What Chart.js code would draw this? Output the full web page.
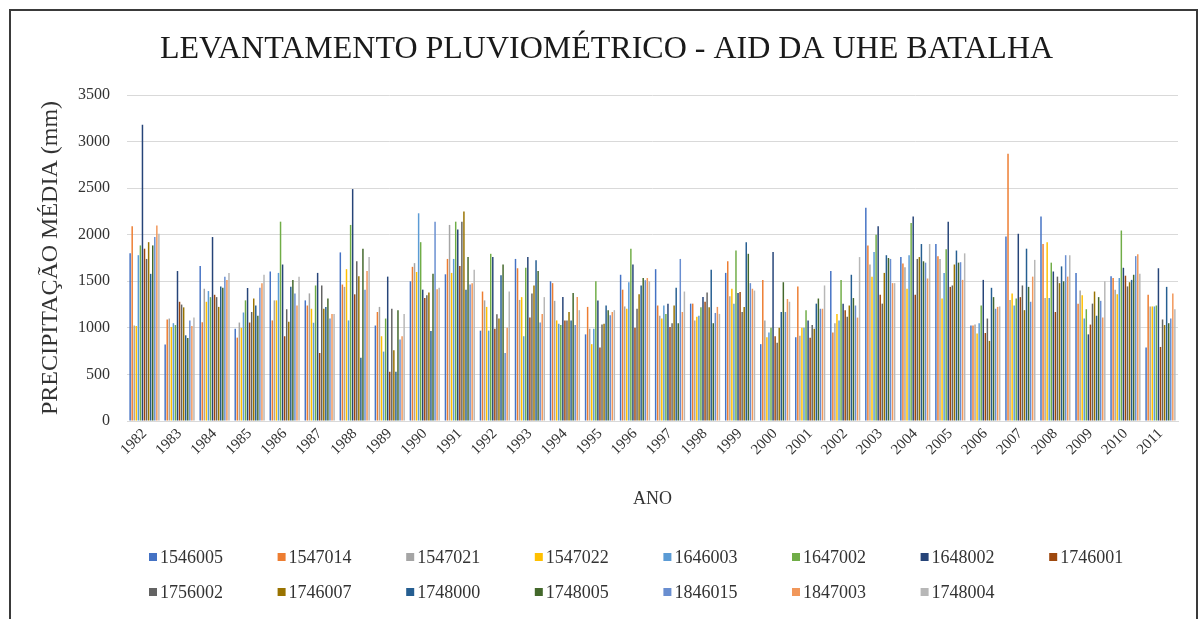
<!DOCTYPE html>
<html>
<head>
<meta charset="utf-8">
<script src="https://cdn.jsdelivr.net/npm/chart.js@4/dist/chart.umd.min.js"></script>
<style>
  html, body { margin: 0; padding: 0; background: #ffffff; }
  #wrap { width: 1203px; height: 619px; }
</style>
</head>
<body>
<div id="wrap"><canvas id="chart" width="1203" height="619"></canvas></div>
<script>
// Years on the category axis
const years = ['1982','1983','1984','1985','1986','1987','1988','1989','1990','1991',
  '1992','1993','1994','1995','1996','1997','1998','1999','2000','2001',
  '2002','2003','2004','2005','2006','2007','2008','2009','2010','2011'];

// Mean annual precipitation (mm) per rain gauge station
const s1546005 = [1800,820,1665,990,1605,1295,1810,1025,1500,1575,970,1740,1500,930,1570,1630,1260,1590,825,900,1610,2290,1760,1900,1025,1980,2195,1590,1555,790];
const s1547014 = [2090,1090,1060,895,1080,1240,1465,1170,1655,1740,1390,1640,1480,1225,1410,1240,1260,1715,1515,1445,950,1885,1690,1770,1025,2870,1900,1260,1535,1355];
const s1547021 = [1025,1100,1420,1057,1295,1370,1440,1225,1695,2105,1295,1300,1290,990,1230,1130,1080,1340,1080,915,1050,1680,1650,1740,1035,1300,1320,1400,1410,1230];
const s1547022 = [1020,1010,1280,1000,1295,1205,1630,910,1600,1590,1225,1330,1080,825,1205,1100,1120,1420,900,1000,1150,1550,1420,1315,940,1370,1920,1350,1360,1230];
const s1646003 = [1780,1050,1395,1165,1590,1055,1080,745,2230,1740,970,910,1045,990,1490,1240,1130,1260,950,1000,1080,1815,1780,1590,1050,1240,1320,1100,1535,1230];
const s1647002 = [1885,1030,1330,1295,2140,1455,2105,1100,1920,2140,1795,1645,1030,1500,1850,1150,1220,1830,1000,1190,1515,2000,2125,1845,1240,1315,1700,1200,2045,1240];
const s1648002 = [3180,1610,1975,1428,1680,1590,2490,1550,1410,2055,1760,1760,1330,1295,1680,1260,1330,1375,1815,1080,1260,2090,2195,2140,1515,2010,1605,930,1645,1640];
const s1746001 = [1850,1280,1355,1057,910,730,1360,530,1320,1665,990,1110,1080,790,1000,1010,1280,1385,910,895,1190,1355,1355,1440,945,1330,1170,1035,1560,795];
const s1756002 = [1740,1250,1330,1170,1200,1455,1715,1205,1350,2140,1145,1370,1080,1035,1205,1050,1380,1170,840,1030,1120,1260,1740,1455,1100,1455,1550,1260,1445,1090];
const s1746007 = [1920,1220,1225,1315,1065,1205,1555,760,1380,2250,1100,1455,1170,1045,1360,1240,1220,1225,1000,990,1240,1590,1760,1680,860,1190,1480,1390,1490,1030];
const s1748000 = [1580,920,1445,1240,1440,1225,680,530,965,1410,1565,1725,1080,1240,1455,1430,1625,1920,1170,1260,1570,1780,1900,1830,1430,1850,1660,1130,1515,1440];
const s1748005 = [1885,890,1430,1130,1515,1315,1850,1190,1580,1760,1680,1610,1375,1190,1535,1050,1050,1795,1490,1315,1320,1750,1715,1700,1330,1440,1500,1330,1570,1050];
const s1846015 = [1975,1080,1550,1430,1370,1100,1410,875,2140,1465,730,1057,1030,1135,1510,1740,1160,1480,1170,1205,1240,1740,1700,1705,1205,1280,1780,1290,1770,1100];
const s1847003 = [2100,1020,1515,1480,1240,1150,1610,910,1415,1480,1000,1150,1330,1170,1535,1170,1225,1420,1310,1205,1110,1480,1530,1515,1225,1550,1550,1110,1790,1370];
const s1748004 = [2010,1110,1590,1570,1550,1150,1760,1150,1430,1625,1390,1330,1190,1190,1500,1390,1150,1400,1280,1455,1760,1480,1900,1800,1230,1730,1780,1500,1580,1200];

const yTicks = [0, 500, 1000, 1500, 2000, 2500, 3000, 3500];

const series = [
  { label: '1546005', data: s1546005, color: '#4472C4' },
  { label: '1547014', data: s1547014, color: '#ED7D31' },
  { label: '1547021', data: s1547021, color: '#A5A5A5' },
  { label: '1547022', data: s1547022, color: '#FFC000' },
  { label: '1646003', data: s1646003, color: '#5B9BD5' },
  { label: '1647002', data: s1647002, color: '#70AD47' },
  { label: '1648002', data: s1648002, color: '#264478' },
  { label: '1746001', data: s1746001, color: '#9E480E' },
  { label: '1756002', data: s1756002, color: '#636363' },
  { label: '1746007', data: s1746007, color: '#997300' },
  { label: '1748000', data: s1748000, color: '#255E91' },
  { label: '1748005', data: s1748005, color: '#43682B' },
  { label: '1846015', data: s1846015, color: '#698ED0' },
  { label: '1847003', data: s1847003, color: '#F1975A' },
  { label: '1748004', data: s1748004, color: '#B7B7B7' }
];

const SERIF = "'Liberation Serif', 'Times New Roman', serif";
const TEXT = '#333333';

// White page and outer frame
const framePlugin = {
  id: 'frame',
  beforeDraw(chart) {
    const ctx = chart.ctx;
    ctx.save();
    ctx.fillStyle = '#ffffff';
    ctx.fillRect(0, 0, chart.width, chart.height);
    ctx.strokeStyle = '#3a3a3a';
    ctx.lineWidth = 2;
    ctx.strokeRect(10, 10, 1187, 640);
    ctx.restore();
  }
};

// Legend laid out in a fixed grid, rows left-aligned
const gridLegend = {
  id: 'gridLegend',
  afterDraw(chart) {
    const ctx = chart.ctx;
    const perRow = 8, x0 = 149, dx = 128.6, y0 = 557, dy = 35;
    ctx.save();
    ctx.font = '18px ' + SERIF;
    ctx.textBaseline = 'middle';
    ctx.textAlign = 'left';
    chart.data.datasets.forEach((ds, i) => {
      const col = i % perRow, row = Math.floor(i / perRow);
      const x = x0 + col * dx, y = y0 + row * dy;
      ctx.fillStyle = ds.backgroundColor;
      ctx.fillRect(x, y - 4, 8, 8);
      ctx.fillStyle = TEXT;
      ctx.fillText(ds.label, x + 11, y + 1);
    });
    ctx.restore();
  }
};

new Chart(document.getElementById('chart'), {
  type: 'bar',
  data: {
    labels: years,
    datasets: series.map(s => ({
      label: s.label,
      data: s.data,
      backgroundColor: s.color,
      borderWidth: 0,
      categoryPercentage: 0.88,
      barPercentage: 0.72
    }))
  },
  options: {
    responsive: false,
    animation: false,
    layout: { padding: { left: 35, right: 25, top: 0, bottom: 108 } },
    plugins: {
      legend: { display: false },
      tooltip: { enabled: false },
      title: {
        display: true,
        text: 'LEVANTAMENTO PLUVIOMÉTRICO - AID DA UHE BATALHA',
        color: '#1a1a1a',
        font: { family: SERIF, size: 32, weight: 'normal' },
        padding: { top: 30, bottom: 26.6 }
      }
    },
    scales: {
      x: {
        grid: { display: false, drawTicks: false },
        border: { display: true, color: '#d9d9d9' },
        ticks: {
          color: TEXT,
          font: { family: SERIF, size: 15 },
          minRotation: 45,
          maxRotation: 45,
          padding: 4,
          autoSkip: false
        },
        title: {
          display: true,
          text: 'ANO',
          color: TEXT,
          font: { family: SERIF, size: 18 },
          padding: { top: 4, bottom: 1 }
        },
        afterFit(scale) { scale.height = 90; }
      },
      y: {
        min: 0,
        max: 3500,
        afterBuildTicks(scale) { scale.ticks = yTicks.map(v => ({ value: v })); },
        grid: { color: '#d9d9d9', drawTicks: false },
        border: { display: false },
        ticks: {
          color: TEXT,
          font: { family: SERIF, size: 16 },
          padding: 17,
          callback: v => String(v)
        },
        title: {
          display: true,
          text: 'PRECIPITAÇÃO MÉDIA (mm)',
          color: TEXT,
          font: { family: SERIF, size: 24 },
          padding: { top: 1, bottom: 0 }
        },
        afterFit(scale) { scale.width = 92; }
      }
    }
  },
  plugins: [framePlugin, gridLegend]
});
</script>
</body>
</html>
